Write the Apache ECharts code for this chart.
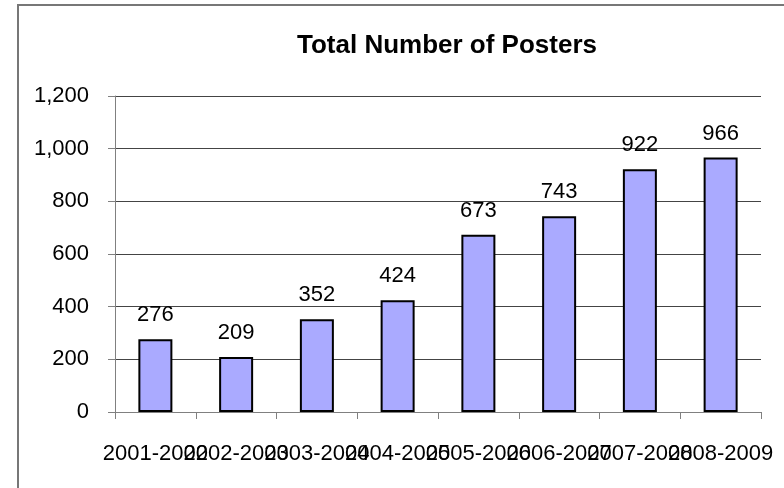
<!DOCTYPE html>
<html><head><meta charset="utf-8">
<script src="https://cdn.jsdelivr.net/npm/echarts@6/dist/echarts.min.js"></script>
<style>html,body{margin:0;padding:0;background:#fff}#c{width:784px;height:488px}</style>
</head><body><div id="c"></div>
<script>
const categories = ["2001-2002","2002-2003","2003-2004","2004-2005","2005-2006","2006-2007","2007-2008","2008-2009"];
const posters = [276, 209, 352, 424, 673, 743, 922, 966];
const chartTitle = "Total Number of Posters";

const chart = echarts.init(document.getElementById('c'), null, {renderer:'canvas'});
const font = 'Liberation Sans, Arial, sans-serif';
chart.setOption({
  animation: false,
  backgroundColor: '#fff',
  title: {
    text: chartTitle, left: 442, top: 28, textAlign: 'center',
    textStyle: {fontFamily: font, fontSize: 26, fontWeight: 'bold', color: '#000'}
  },
  graphic: [{
    type: 'rect', shape: {x: 18, y: 5, width: 800, height: 520},
    style: {fill: 'none', stroke: '#777', lineWidth: 2}, silent: true
  }],
  grid: {left: 115, right: 23, top: 96, bottom: 76, containLabel: false},
  xAxis: {
    type: 'category', data: categories,
    axisLine: {lineStyle: {color: '#808080', width: 1}},
    axisTick: {show: true, length: 7, lineStyle: {color: '#808080'}},
    axisLabel: {interval: 0, margin: 31, fontFamily: font, fontSize: 22, color: '#000'},
    splitLine: {show: false}
  },
  yAxis: {
    type: 'value', min: 0, max: 1200, interval: 200,
    axisLine: {show: true, lineStyle: {color: '#808080', width: 1}},
    axisTick: {show: true, length: 7, lineStyle: {color: '#808080'}},
    axisLabel: {margin: 26, fontFamily: font, fontSize: 22, color: '#000',
      formatter: v => v.toLocaleString('en-US')},
    splitLine: {show: true, lineStyle: {color: '#444', width: 1}}
  },
  series: [{
    type: 'bar', data: posters, barWidth: 34,
    itemStyle: {color: '#AAAAFF', borderColor: '#000', borderWidth: 2},
    label: {show: true, position: 'top', distance: 13, fontFamily: font, fontSize: 22, color: '#000'}
  }]
});
</script></body></html>
